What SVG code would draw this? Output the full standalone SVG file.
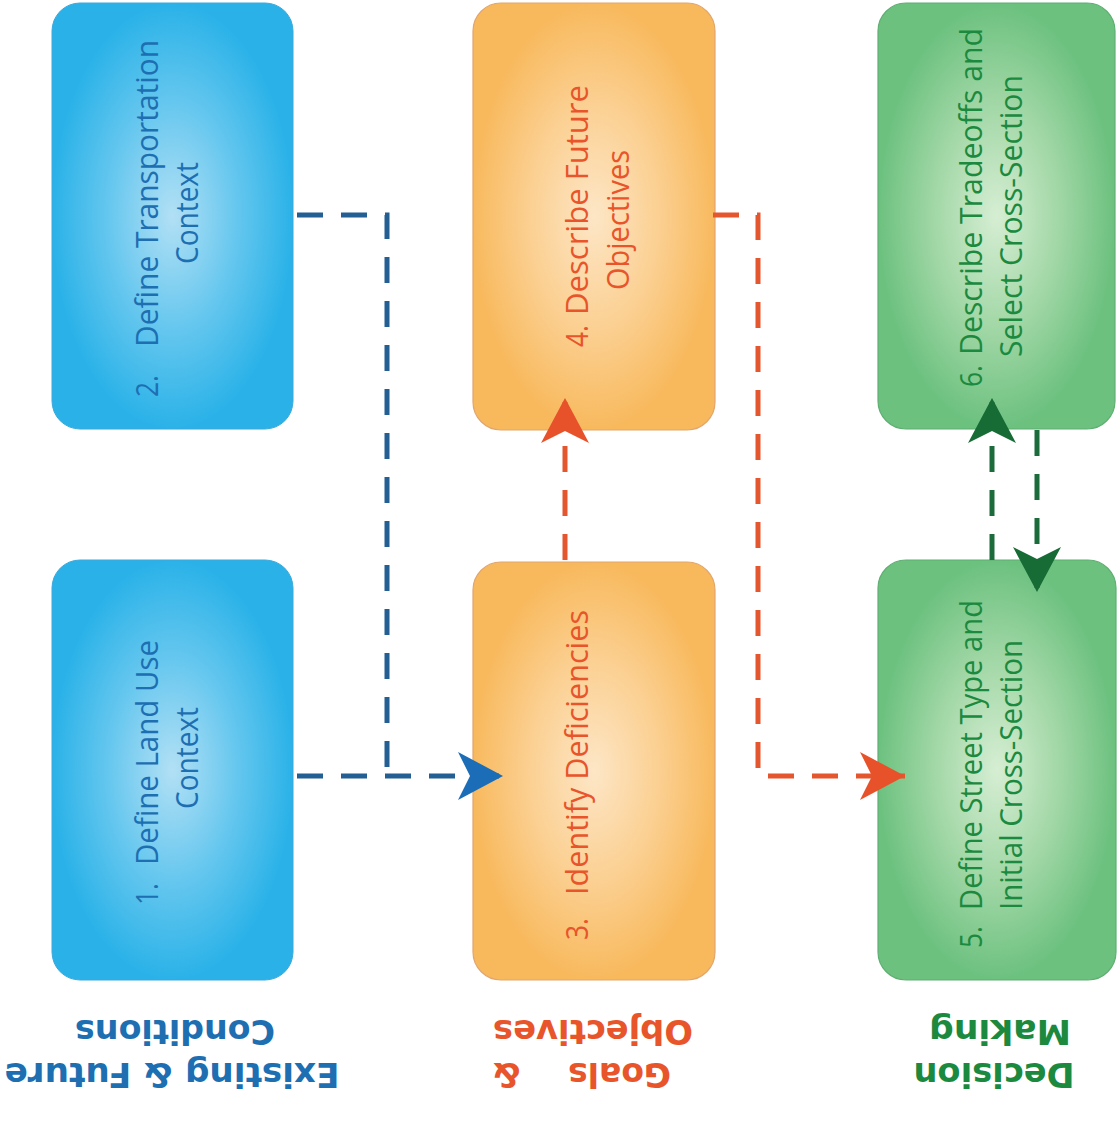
<svg xmlns="http://www.w3.org/2000/svg" width="1120" height="1125" viewBox="0 0 1120 1125">
  <style>
    .box-blue { fill: url(#gBlue); stroke: #3aa9dc; stroke-width: 1; }
    .box-orange { fill: url(#gOrange); stroke: #e2a56c; stroke-width: 1.2; }
    .box-green { fill: url(#gGreen); stroke: #5fae72; stroke-width: 1.2; }
    .lbl { font-family: "Open Sans", "Noto Sans", "DejaVu Sans", sans-serif; font-size: 31px; }
    .c-blue { fill: #1d6fb2; }
    .c-orange { fill: #e8552b; }
    .c-green { fill: #1b8a3f; }
    .head { font-family: "DejaVu Sans", "Liberation Sans", sans-serif; font-weight: bold; font-size: 33px; text-anchor: middle; }
    .link { fill: none; stroke-width: 5; stroke-dasharray: 26 18; }
    .link-blue { stroke: #245f94; }
    .link-orange { stroke: #e4572e; }
    .link-green { stroke: #1c6b3a; }
  </style>
  <defs>
    <radialGradient id="gBlue" cx="0.5" cy="0.5" r="0.5">
      <stop offset="0" stop-color="#b2e0f5"/>
      <stop offset="0.55" stop-color="#63c6ee"/>
      <stop offset="1" stop-color="#2ab2e8"/>
    </radialGradient>
    <radialGradient id="gOrange" cx="0.5" cy="0.5" r="0.5">
      <stop offset="0" stop-color="#fde6c6"/>
      <stop offset="0.55" stop-color="#fbcf90"/>
      <stop offset="1" stop-color="#f8b95d"/>
    </radialGradient>
    <radialGradient id="gGreen" cx="0.5" cy="0.5" r="0.5">
      <stop offset="0" stop-color="#d6eed3"/>
      <stop offset="0.55" stop-color="#9fd6a4"/>
      <stop offset="1" stop-color="#6cc17f"/>
    </radialGradient>
    <marker id="aBlue" viewBox="-46 -25 47 50" refX="0" refY="0" markerWidth="47" markerHeight="50" markerUnits="userSpaceOnUse" orient="auto">
      <path d="M0,0 L-45,-24 L-33,0 L-45,24 Z" fill="#1a6db6"/>
    </marker>
    <marker id="aOrange" viewBox="-46 -25 47 50" refX="0" refY="0" markerWidth="47" markerHeight="50" markerUnits="userSpaceOnUse" orient="auto">
      <path d="M0,0 L-45,-24 L-33,0 L-45,24 Z" fill="#e8522a"/>
    </marker>
    <marker id="aGreen" viewBox="-46 -25 47 50" refX="0" refY="0" markerWidth="47" markerHeight="50" markerUnits="userSpaceOnUse" orient="auto">
      <path d="M0,0 L-45,-24 L-33,0 L-45,24 Z" fill="#176b35"/>
    </marker>
  </defs>

  <rect width="1120" height="1125" fill="#ffffff"/>

  <!-- step boxes, labels read bottom-to-top -->
  <g id="step2">
    <rect class="box-blue" x="52" y="3" width="241" height="426" rx="28"/>
    <g transform="rotate(-90)" class="lbl c-blue">
      <text x="-397" y="158" textLength="22" lengthAdjust="spacingAndGlyphs">2.</text>
      <text x="-347" y="158" textLength="307" lengthAdjust="spacingAndGlyphs">Define Transportation</text>
      <text x="-264" y="198" textLength="102" lengthAdjust="spacingAndGlyphs">Context</text>
    </g>
  </g>

  <g id="step1">
    <rect class="box-blue" x="52" y="560" width="241" height="420" rx="28"/>
    <g transform="rotate(-90)" class="lbl c-blue">
      <text x="-905" y="158" textLength="22" lengthAdjust="spacingAndGlyphs">1.</text>
      <text x="-865" y="158" textLength="225" lengthAdjust="spacingAndGlyphs">Define Land Use</text>
      <text x="-809" y="198" textLength="102" lengthAdjust="spacingAndGlyphs">Context</text>
    </g>
  </g>

  <g id="step4">
    <rect class="box-orange" x="473" y="3" width="242" height="427" rx="28"/>
    <g transform="rotate(-90)" class="lbl c-orange">
      <text x="-347" y="588" textLength="22" lengthAdjust="spacingAndGlyphs">4.</text>
      <text x="-315" y="588" textLength="230" lengthAdjust="spacingAndGlyphs">Describe Future</text>
      <text x="-290" y="629" textLength="140" lengthAdjust="spacingAndGlyphs">Objectives</text>
    </g>
  </g>

  <g id="step3">
    <rect class="box-orange" x="473" y="562" width="242" height="418" rx="28"/>
    <g transform="rotate(-90)" class="lbl c-orange">
      <text x="-940" y="588" textLength="22" lengthAdjust="spacingAndGlyphs">3.</text>
      <text x="-895" y="588" textLength="285" lengthAdjust="spacingAndGlyphs">Identify Deficiencies</text>
    </g>
  </g>

  <g id="step6">
    <rect class="box-green" x="878" y="3" width="237" height="426" rx="28"/>
    <g transform="rotate(-90)" class="lbl c-green">
      <text x="-387" y="982" textLength="22" lengthAdjust="spacingAndGlyphs">6.</text>
      <text x="-355" y="982" textLength="327" lengthAdjust="spacingAndGlyphs">Describe Tradeoffs and</text>
      <text x="-357" y="1022" textLength="282" lengthAdjust="spacingAndGlyphs">Select Cross-Section</text>
    </g>
  </g>

  <g id="step5">
    <rect class="box-green" x="878" y="560" width="238" height="420" rx="28"/>
    <g transform="rotate(-90)" class="lbl c-green">
      <text x="-948" y="982" textLength="22" lengthAdjust="spacingAndGlyphs">5.</text>
      <text x="-910" y="982" textLength="310" lengthAdjust="spacingAndGlyphs">Define Street Type and</text>
      <text x="-910" y="1022" textLength="270" lengthAdjust="spacingAndGlyphs">Initial Cross-Section</text>
    </g>
  </g>

  <!-- connectors -->
  <g id="connectors">
    <path class="link link-blue" d="M297,215 H387 V776"/>
    <path class="link link-blue" d="M297,776 H503" marker-end="url(#aBlue)"/>
    <path class="link link-orange" d="M565,560 V398" marker-end="url(#aOrange)"/>
    <path class="link link-orange" d="M713,215 H758 V776 H905" marker-end="url(#aOrange)"/>
    <path class="link link-green" d="M992,560 V398" marker-end="url(#aGreen)"/>
    <path class="link link-green" d="M1037,430 V592" marker-end="url(#aGreen)"/>
  </g>

  <!-- column headings, turned upside down -->
  <g id="heading-existing" transform="rotate(180)" class="head c-blue">
    <text x="-172" y="-1063" textLength="335" lengthAdjust="spacingAndGlyphs">Existing &amp; Future</text>
    <text x="-175" y="-1020" textLength="200" lengthAdjust="spacingAndGlyphs">Conditions</text>
  </g>
  <g id="heading-goals" transform="rotate(180)" class="head c-orange">
    <text x="-671" y="-1063" style="text-anchor:start">Goals <tspan x="-521">&amp;</tspan></text>
    <text x="-593" y="-1020" textLength="200" lengthAdjust="spacingAndGlyphs">Objectives</text>
  </g>
  <g id="heading-decision" transform="rotate(180)" class="head c-green">
    <text x="-994" y="-1063" textLength="161" lengthAdjust="spacingAndGlyphs">Decision</text>
    <text x="-1000" y="-1020" textLength="142" lengthAdjust="spacingAndGlyphs">Making</text>
  </g>
</svg>
